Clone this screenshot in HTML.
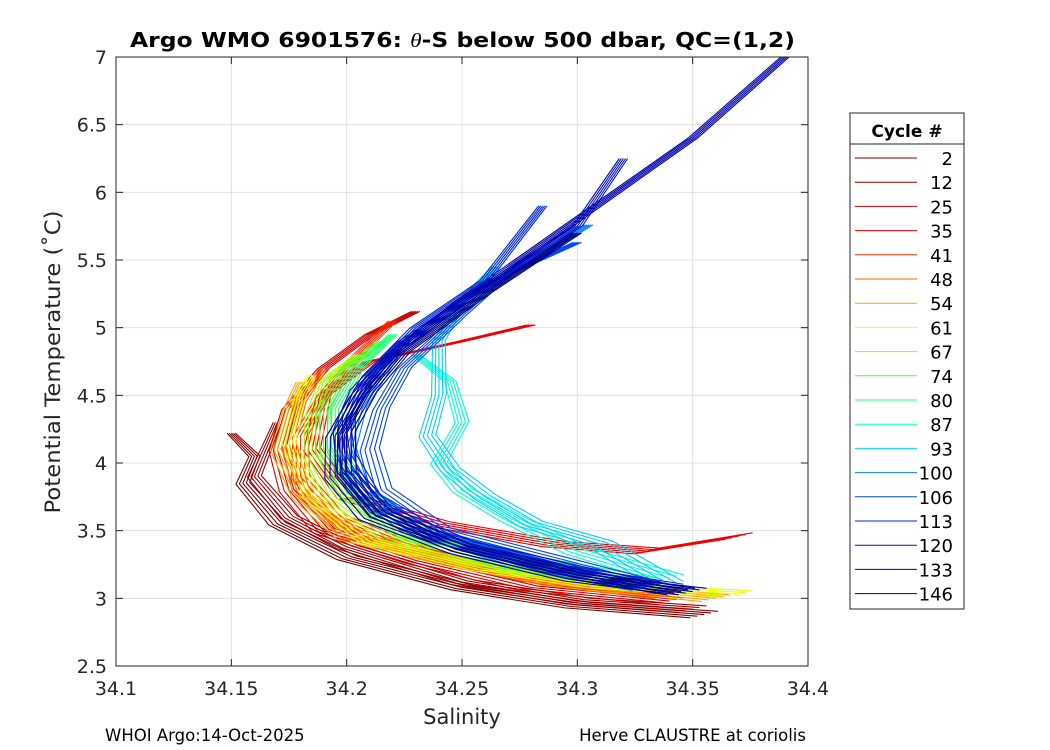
<!DOCTYPE html>
<html><head><meta charset="utf-8"><style>
body{margin:0;background:#fff;}
svg{display:block;font-family:"DejaVu Sans","Liberation Sans",sans-serif;}
</style></head><body>
<svg id="chart" width="1050" height="750">
<rect width="1050" height="750" fill="#fff"/>
<g id="grid"></g>
<g id="lines"></g>
<rect x="116" y="57" width="692" height="609" fill="none" stroke="#262626" stroke-width="1"/>
<g id="ticks"></g>
<text x="130" y="47" textLength="665" lengthAdjust="spacingAndGlyphs" font-size="20" font-weight="bold" fill="#000">Argo WMO 6901576: <tspan font-style="italic" font-family="Liberation Serif,serif" font-weight="normal">θ</tspan>-S below 500 dbar,  QC=(1,2)</text>
<text x="462" y="724" text-anchor="middle" font-size="21" fill="#262626">Salinity</text>
<text transform="translate(60,362) rotate(-90)" text-anchor="middle" font-size="21" textLength="303" lengthAdjust="spacingAndGlyphs" fill="#262626">Potential Temperature (˚C)</text>
<text x="105" y="741" font-size="16.5" fill="#000">WHOI Argo:14-Oct-2025</text>
<text x="806" y="741" text-anchor="end" font-size="16.5" fill="#000">Herve CLAUSTRE at coriolis</text>
<g id="legend">
<rect x="850" y="113" width="114" height="496" fill="#fff" stroke="#262626" stroke-width="1"/>
<line x1="850" y1="144" x2="964" y2="144" stroke="#262626"/>
<text x="907" y="137" text-anchor="middle" font-size="17" font-weight="bold" fill="#000">Cycle #</text>
</g>
</svg>
<script>
var cycles=[2,12,25,35,41,48,54,61,67,74,80,87,93,100,106,113,120,133,146];
var colors=["#800000","#a00000","#d00000","#f00000","#ff2a00","#ff6000","#ffa000","#e8ff10","#a0ff00","#50ff30","#20ff70","#00ffd0","#00d0ff","#0080ff","#0048f0","#0028d8","#0010c8","#0000a8","#000080"];
var profiles=[
[[34.355,2.88],[34.3,2.95],[34.25,3.08],[34.2,3.3],[34.17,3.55],[34.155,3.85],[34.16,4.05],[34.15,4.22]],
[[34.35,2.92],[34.3,2.98],[34.25,3.12],[34.2,3.38],[34.175,3.6],[34.16,3.9],[34.165,4.1],[34.17,4.3]],
[[34.34,2.98],[34.28,3.08],[34.23,3.28],[34.19,3.5],[34.175,3.8],[34.17,4.1],[34.175,4.4],[34.19,4.7],[34.21,4.95],[34.23,5.12]],
[[34.37,3.46],[34.33,3.35],[34.29,3.4],[34.24,3.55],[34.2,3.75],[34.185,4.1],[34.19,4.5],[34.21,4.75],[34.25,4.9],[34.28,5.02]],
[[34.33,3.05],[34.28,3.15],[34.23,3.35],[34.195,3.6],[34.18,3.9],[34.18,4.2],[34.19,4.5],[34.205,4.8],[34.22,5.05]],
[[34.34,3.02],[34.29,3.12],[34.24,3.3],[34.2,3.5],[34.18,3.8],[34.175,4.15],[34.18,4.45],[34.19,4.7]],
[[34.36,3.0],[34.3,3.1],[34.25,3.25],[34.2,3.45],[34.18,3.75],[34.17,4.1],[34.175,4.4],[34.18,4.6]],
[[34.37,3.03],[34.31,3.1],[34.26,3.22],[34.21,3.42],[34.185,3.75],[34.175,4.15],[34.18,4.5],[34.185,4.65]],
[[34.33,3.08],[34.27,3.22],[34.22,3.45],[34.195,3.75],[34.185,4.05],[34.185,4.35],[34.19,4.6],[34.205,4.8]],
[[34.33,3.1],[34.27,3.25],[34.225,3.48],[34.2,3.78],[34.19,4.1],[34.19,4.4],[34.2,4.7],[34.215,4.9]],
[[34.33,3.12],[34.28,3.28],[34.23,3.5],[34.205,3.8],[34.195,4.1],[34.195,4.4],[34.205,4.7],[34.22,4.95]],
[[34.34,3.15],[34.3,3.35],[34.27,3.6],[34.25,3.8],[34.24,4.0],[34.25,4.3],[34.245,4.6],[34.23,4.8]],
[[34.34,3.1],[34.31,3.4],[34.28,3.55],[34.26,3.75],[34.245,3.95],[34.235,4.2],[34.24,4.5],[34.24,4.9],[34.25,5.2],[34.265,5.45]],
[[34.33,3.08],[34.28,3.25],[34.23,3.5],[34.205,3.8],[34.2,4.1],[34.205,4.4],[34.22,4.8],[34.25,5.2],[34.28,5.5],[34.305,5.76]],
[[34.33,3.1],[34.29,3.28],[34.24,3.5],[34.215,3.8],[34.21,4.1],[34.215,4.4],[34.225,4.7],[34.25,5.1],[34.27,5.4],[34.3,5.63]],
[[34.34,3.08],[34.29,3.22],[34.24,3.45],[34.21,3.75],[34.2,4.05],[34.2,4.35],[34.21,4.65],[34.23,5.0],[34.26,5.35],[34.285,5.9]],
[[34.34,3.06],[34.3,3.2],[34.25,3.4],[34.215,3.65],[34.2,3.95],[34.198,4.25],[34.205,4.55],[34.225,4.9],[34.26,5.3],[34.3,5.75],[34.32,6.25]],
[[34.35,3.05],[34.3,3.15],[34.25,3.35],[34.21,3.6],[34.195,3.9],[34.195,4.2],[34.205,4.5],[34.22,4.8],[34.25,5.2],[34.3,5.8],[34.35,6.4],[34.39,7.0]],
[[34.345,3.05],[34.3,3.17],[34.25,3.37],[34.215,3.62],[34.2,3.92],[34.2,4.22],[34.21,4.52],[34.225,4.82],[34.26,5.25],[34.3,5.7]]
];
var offsets=[-0.006,-0.003,0,0.003,0.006];
var xTicks=[34.1,34.15,34.2,34.25,34.3,34.35,34.4];
var xLabels=["34.1","34.15","34.2","34.25","34.3","34.35","34.4"];
var yTicks=[2.5,3,3.5,4,4.5,5,5.5,6,6.5,7];
var yLabels=["2.5","3","3.5","4","4.5","5","5.5","6","6.5","7"];
var NS="http://www.w3.org/2000/svg";
function sx(s){return 116+(s-34.1)/(0.3)*692;}
function sy(t){return 666-(t-2.5)/4.5*609;}
function mk(tag,attrs,parent){var e=document.createElementNS(NS,tag);for(var k in attrs)e.setAttribute(k,attrs[k]);parent.appendChild(e);return e;}
var grid=document.getElementById('grid'),ticks=document.getElementById('ticks'),lines=document.getElementById('lines'),legend=document.getElementById('legend');
xTicks.forEach(function(v,i){
 var x=sx(v);
 var g=mk('line',{x1:x,y1:57,x2:x,y2:666,stroke:'#e0e0e0','stroke-width':1},grid);
 
 
 mk('line',{x1:x,y1:666,x2:x,y2:659,stroke:'#262626'},ticks);
 mk('line',{x1:x,y1:57,x2:x,y2:64,stroke:'#262626'},ticks);
 var t=mk('text',{x:x,y:695,'text-anchor':'middle','font-size':19,fill:'#262626'},ticks);
 t.textContent=xLabels[i];
 
 
});
yTicks.forEach(function(v,i){
 var y=sy(v);
 var g=mk('line',{x1:116,y1:y,x2:808,y2:y,stroke:'#e0e0e0','stroke-width':1},grid);
 
 
 mk('line',{x1:116,y1:y,x2:123,y2:y,stroke:'#262626'},ticks);
 mk('line',{x1:808,y1:y,x2:801,y2:y,stroke:'#262626'},ticks);
 var t=mk('text',{x:107,y:y+7,'text-anchor':'end','font-size':19,fill:'#262626'},ticks);
 t.textContent=yLabels[i];
 
 
});
profiles.forEach(function(p,i){
 offsets.forEach(function(o,j){
  var d=p.map(function(pt,k){var f=(k/(p.length-1));return (k?'L':'M')+sx(pt[0]+o*(1-0.7*f))+','+sy(pt[1]+o*4*(1-f));}).join(' ');
  var path=mk('path',{d:d,fill:'none',stroke:colors[i],'stroke-width':1.1,'stroke-linejoin':'round'},lines);
  
  
 });
});
cycles.forEach(function(c,i){
 var y=158+i*24.2;
 var l=mk('line',{x1:855,y1:y,x2:917,y2:y,stroke:colors[i],'stroke-width':1},legend);
 
 
 var t=mk('text',{x:953,y:y+7,'text-anchor':'end','font-size':18,fill:'#000'},legend);
 t.textContent=c;
 
 
});
</script>
</body></html>
